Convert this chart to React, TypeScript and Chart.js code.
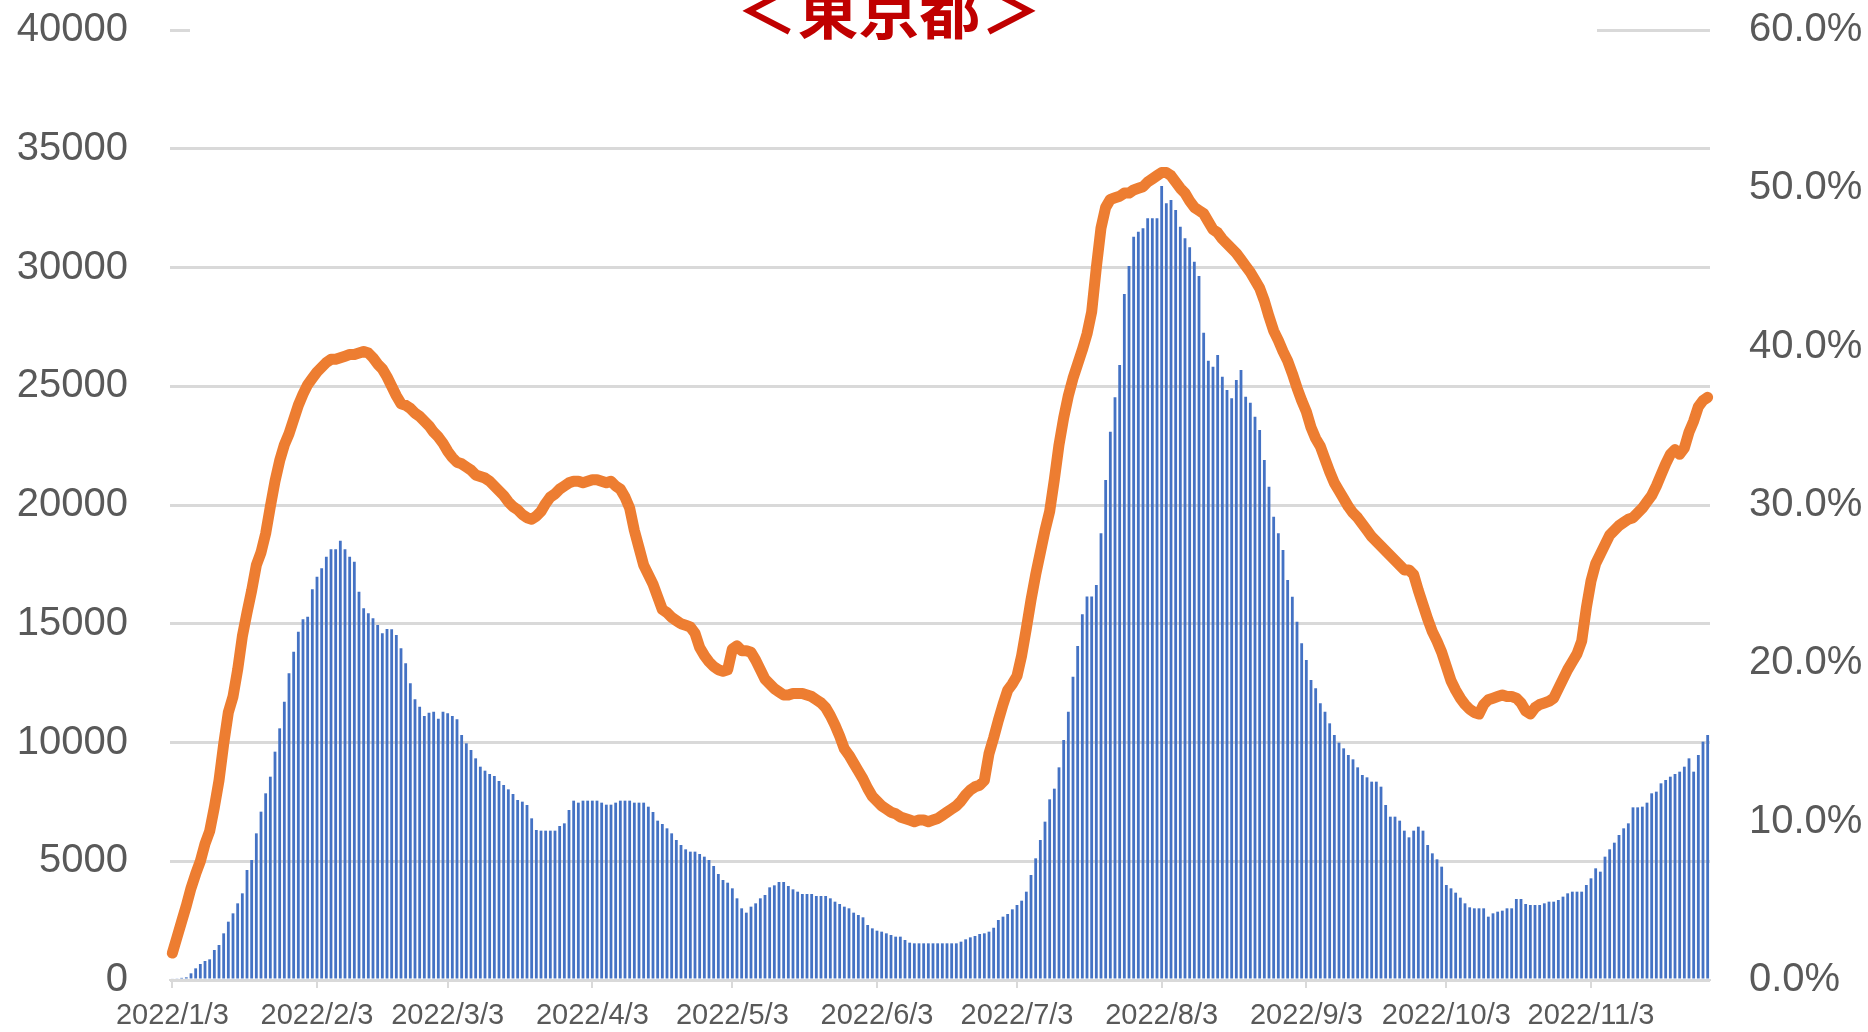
import React, { useEffect, useRef } from 'react';
import { Chart, registerables } from 'chart.js';

Chart.register(...registerables);

const TITLE = '＜東京都＞';
const START_YEAR = 2022;
const START_MONTH = 1;
const START_DAY = 3;
const DAY_COUNT = 330;

const TICK_LABELS = [
  '2022/1/3', '2022/2/3', '2022/3/3', '2022/4/3', '2022/5/3', '2022/6/3',
  '2022/7/3', '2022/8/3', '2022/9/3', '2022/10/3', '2022/11/3',
];

// daily cases (left axis)
const CASES = [
  60, 70, 90, 112, 281, 491, 674, 800, 870, 1263,
  1474, 1965, 2456, 2807, 3228, 3649, 4632, 5053, 6175, 7088,
  7860, 8561, 9614, 10596, 11719, 12912, 13825, 14667, 15186, 15298,
  16449, 16982, 17333, 17825, 18133, 18133, 18498, 18133, 17825, 17614,
  16351, 15649, 15439, 15228, 14950, 14596, 14779, 14765, 14526, 13965,
  13333, 12491, 11818, 11509, 11116, 11256, 11298, 11004, 11298, 11228,
  11116, 10975, 10316, 9965, 9684, 9333, 8982, 8814, 8674, 8589,
  8379, 8211, 8028, 7832, 7579, 7509, 7368, 6807, 6316, 6288,
  6288, 6288, 6288, 6484, 6596, 7158, 7551, 7467, 7551, 7551,
  7551, 7551, 7467, 7382, 7382, 7467, 7551, 7551, 7551, 7467,
  7467, 7467, 7298, 7074, 6709, 6568, 6386, 6175, 5895, 5684,
  5502, 5404, 5404, 5305, 5193, 5053, 4800, 4463, 4211, 4098,
  3860, 3439, 3018, 2835, 3088, 3228, 3439, 3579, 3902, 3986,
  4126, 4126, 3958, 3817, 3719, 3621, 3621, 3621, 3537, 3537,
  3537, 3439, 3298, 3200, 3088, 3018, 2835, 2737, 2639, 2316,
  2175, 2077, 2035, 1965, 1895, 1825, 1825, 1684, 1572, 1544,
  1544, 1544, 1544, 1544, 1544, 1544, 1544, 1544, 1544, 1614,
  1712, 1796, 1853, 1937, 1965, 2035, 2200, 2526, 2667, 2779,
  2975, 3158, 3340, 3719, 4421, 5123, 5895, 6667, 7607, 8056,
  8954, 10105, 11298, 12772, 14063, 15400, 16150, 16150, 16632, 18807,
  21053, 23088, 24533, 25895, 28884, 30063, 31298, 31509, 31649, 32070,
  32070, 32070, 33432, 32702, 32842, 32421, 31719, 31228, 30850, 30246,
  29642, 27256, 26077, 25825, 26316, 25404, 24842, 24491, 25263, 25684,
  24561, 24309, 23719, 23158, 21895, 20772, 19509, 18807, 18105, 16842,
  16140, 15088, 14175, 13474, 12632, 12281, 11649, 11298, 10807, 10316,
  9993, 9754, 9474, 9291, 8954, 8632, 8533, 8351, 8351, 8140,
  7368, 6877, 6877, 6709, 6288, 6007, 6288, 6456, 6288, 5684,
  5333, 5081, 4772, 4000, 3860, 3677, 3467, 3228, 3060, 3018,
  3018, 3018, 2667, 2807, 2877, 2919, 3018, 3018, 3411, 3411,
  3200, 3158, 3158, 3158, 3228, 3298, 3298, 3368, 3509, 3649,
  3719, 3719, 3719, 4000, 4281, 4702, 4561, 5193, 5502, 5782,
  6105, 6386, 6596, 7270, 7270, 7298, 7467, 7860, 7930, 8281,
  8421, 8561, 8674, 8772, 8982, 9333, 8772, 9474, 10035, 10316,
];

// positivity rate, % (right axis)
const RATE = [
  1.7, 2.7, 3.7, 4.7, 5.8, 6.7, 7.5, 8.6, 9.4, 10.9,
  12.6, 14.9, 16.9, 17.9, 19.6, 21.7, 23.2, 24.6, 26.2, 27.0,
  28.2, 29.9, 31.5, 32.8, 33.8, 34.5, 35.4, 36.3, 37.0, 37.6,
  38.0, 38.4, 38.7, 39.0, 39.2, 39.2, 39.3, 39.4, 39.5, 39.5,
  39.6, 39.7, 39.6, 39.3, 38.9, 38.6, 38.1, 37.5, 36.9, 36.4,
  36.3, 36.1, 35.8, 35.6, 35.3, 35.0, 34.6, 34.3, 33.9, 33.4,
  33.0, 32.7, 32.6, 32.4, 32.2, 31.9, 31.8, 31.7, 31.5, 31.2,
  30.9, 30.6, 30.2, 29.9, 29.7, 29.4, 29.2, 29.1, 29.3, 29.6,
  30.1, 30.5, 30.7, 31.0, 31.2, 31.4, 31.5, 31.5, 31.4, 31.5,
  31.6, 31.6, 31.5, 31.4, 31.5, 31.2, 31.0, 30.5, 29.8, 28.4,
  27.3, 26.2, 25.6, 25.0, 24.2, 23.4, 23.2, 22.9, 22.7, 22.5,
  22.4, 22.3, 21.9, 21.0, 20.5, 20.1, 19.8, 19.6, 19.5, 19.6,
  20.9, 21.1, 20.8, 20.8, 20.7, 20.2, 19.6, 19.0, 18.7, 18.4,
  18.2, 18.0, 18.0, 18.1, 18.1, 18.1, 18.0, 17.9, 17.7, 17.5,
  17.2, 16.7, 16.1, 15.4, 14.6, 14.2, 13.7, 13.2, 12.7, 12.1,
  11.6, 11.3, 11.0, 10.8, 10.6, 10.5, 10.3, 10.2, 10.1, 10.0,
  10.1, 10.1, 10.0, 10.1, 10.2, 10.4, 10.6, 10.8, 11.0, 11.3,
  11.7, 12.0, 12.2, 12.3, 12.6, 14.3, 15.3, 16.4, 17.4, 18.3,
  18.7, 19.2, 20.5, 22.2, 24.0, 25.6, 27.0, 28.4, 29.6, 31.6,
  33.8, 35.5, 36.9, 38.0, 38.9, 39.8, 40.8, 42.2, 45.0, 47.5,
  48.8, 49.3, 49.4, 49.5, 49.7, 49.7, 49.9, 50.0, 50.1, 50.4,
  50.6, 50.8, 51.0, 51.0, 50.8, 50.4, 50.0, 49.7, 49.2, 48.8,
  48.6, 48.4, 47.9, 47.4, 47.2, 46.8, 46.5, 46.2, 45.9, 45.5,
  45.1, 44.7, 44.2, 43.7, 42.9, 41.9, 41.0, 40.4, 39.7, 39.1,
  38.3, 37.4, 36.6, 35.9, 34.9, 34.2, 33.7, 32.9, 32.1, 31.4,
  30.9, 30.4, 29.9, 29.5, 29.2, 28.8, 28.4, 28.0, 27.7, 27.4,
  27.1, 26.8, 26.5, 26.2, 25.9, 25.9, 25.6, 24.6, 23.7, 22.8,
  22.0, 21.4, 20.7, 19.8, 18.9, 18.3, 17.8, 17.4, 17.1, 16.9,
  16.8, 17.4, 17.7, 17.8, 17.9, 18.0, 17.9, 17.9, 17.8, 17.5,
  17.0, 16.8, 17.2, 17.4, 17.5, 17.6, 17.8, 18.4, 19.0, 19.6,
  20.1, 20.6, 21.4, 23.5, 25.2, 26.3, 26.9, 27.5, 28.1, 28.4,
  28.7, 28.9, 29.1, 29.2, 29.5, 29.8, 30.2, 30.6, 31.2, 31.9,
  32.6, 33.2, 33.5, 33.2, 33.6, 34.6, 35.3, 36.2, 36.6, 36.8,
];

const DATES: string[] = Array.from({ length: DAY_COUNT }, (_, i) => {
  const d = new Date(START_YEAR, START_MONTH - 1, START_DAY + i);
  return `${d.getFullYear()}/${d.getMonth() + 1}/${d.getDate()}`;
});

const W = 1868;
const H = 1032;
const LABEL_FONT = "'Liberation Sans', Arial, sans-serif";

const titlePlugin = {
  id: 'tokyoTitle',
  afterDraw(chart: any) {
    const { ctx, chartArea } = chart;
    ctx.save();
    // white box behind the title hides most of the top gridline
    ctx.fillStyle = '#ffffff';
    ctx.fillRect(chartArea.left + 20, 0, chartArea.right - chartArea.left - 133, chartArea.top + 12);
    ctx.fillStyle = '#C00000';
    ctx.font = "bold 61px 'Noto Sans CJK JP'";
    ctx.textAlign = 'center';
    ctx.textBaseline = 'alphabetic';
    ctx.fillText(TITLE, 889, 34);
    ctx.restore();
  },
};

const noVerticalPadding = (scale: any, width: number) => {
  scale.width = width;
  scale.paddingTop = 0;
  scale.paddingBottom = 0;
};

export default function App() {
  const ref = useRef<HTMLCanvasElement | null>(null);

  useEffect(() => {
    if (!ref.current) return;
    const chart = new Chart(ref.current, {
      type: 'bar',
      data: {
        labels: DATES,
        datasets: [
          {
            type: 'line',
            label: '陽性率',
            data: RATE,
            yAxisID: 'y1',
            borderColor: '#ED7D31',
            backgroundColor: '#ED7D31',
            borderWidth: 11,
            pointRadius: 0,
            tension: 0,
            borderCapStyle: 'round',
            borderJoinStyle: 'round',
            order: 0,
          } as any,
          {
            type: 'bar',
            label: '陽性者数',
            data: CASES,
            yAxisID: 'y',
            backgroundColor: '#4472C4',
            borderWidth: 0,
            barPercentage: 0.6,
            categoryPercentage: 1.0,
            order: 1,
          },
        ],
      },
      options: {
        responsive: false,
        maintainAspectRatio: false,
        animation: false,
        devicePixelRatio: 1,
        layout: { padding: { top: 30, left: 0, right: 0, bottom: 0 } },
        plugins: {
          legend: { display: false },
          tooltip: { enabled: false },
          title: { display: false },
        },
        scales: {
          x: {
            type: 'category',
            offset: true,
            grid: {
              display: true,
              drawOnChartArea: false,
              drawTicks: true,
              tickLength: 8,
              offset: false,
              color: '#d9d9d9',
              lineWidth: 2,
            },
            border: { display: true, color: '#d9d9d9', width: 2 },
            ticks: {
              autoSkip: false,
              maxRotation: 0,
              minRotation: 0,
              padding: 11,
              color: '#595959',
              font: { family: LABEL_FONT, size: 29 },
            },
            afterBuildTicks: (scale: any) => {
              scale.ticks = scale.ticks.filter((t: any) => TICK_LABELS.includes(DATES[t.value]));
            },
            afterFit: (scale: any) => {
              scale.height = 52;
              scale.paddingLeft = 0;
              scale.paddingRight = 0;
            },
          },
          y: {
            type: 'linear',
            position: 'left',
            min: 0,
            max: 40000,
            grid: { color: '#d9d9d9', lineWidth: 3, drawTicks: false },
            border: { display: false },
            ticks: {
              stepSize: 5000,
              padding: 42,
              color: '#595959',
              font: { family: LABEL_FONT, size: 40 },
              callback: (v: any) => String(v),
            },
            afterFit: (scale: any) => noVerticalPadding(scale, 170),
          },
          y1: {
            type: 'linear',
            position: 'right',
            min: 0,
            max: 60,
            grid: { display: false, drawTicks: false },
            border: { display: false },
            ticks: {
              stepSize: 10,
              padding: 39,
              color: '#595959',
              font: { family: LABEL_FONT, size: 40 },
              callback: (v: any) => Number(v).toFixed(1) + '%',
            },
            afterFit: (scale: any) => noVerticalPadding(scale, 158),
          },
        },
      },
      plugins: [titlePlugin],
    });
    return () => chart.destroy();
  }, []);

  return (
    <div style={{ position: 'fixed', left: 0, top: 0, width: W, height: H, background: '#ffffff' }}>
      <canvas ref={ref} width={W} height={H} style={{ display: 'block', width: W, height: H }} />
    </div>
  );
}
